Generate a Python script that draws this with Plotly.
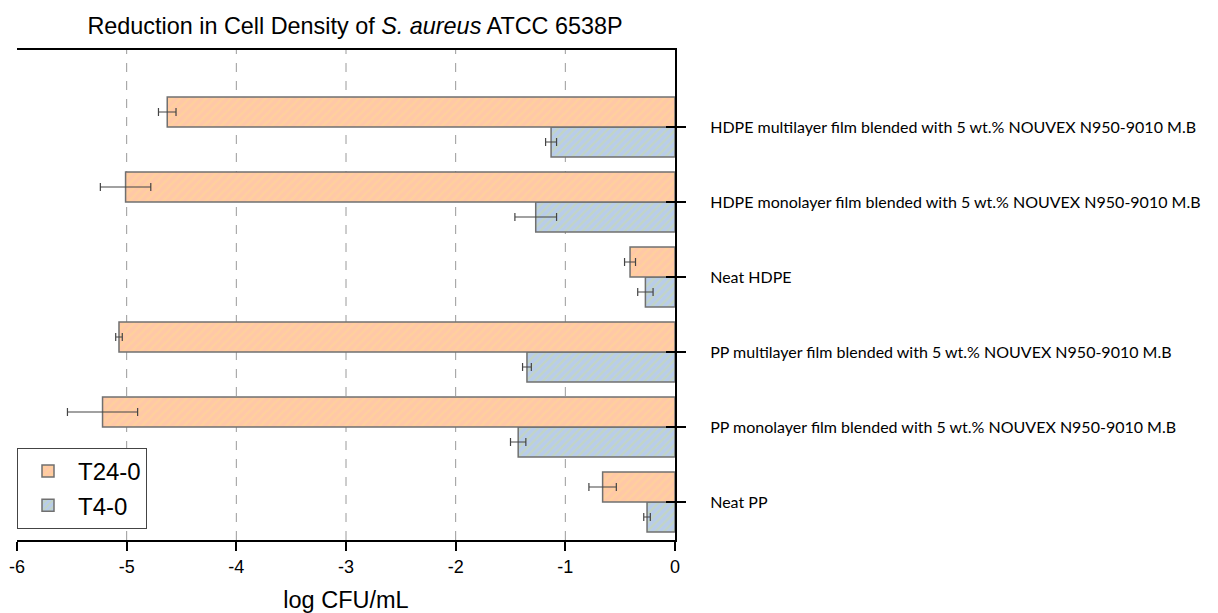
import plotly.graph_objects as go

categories = [
    "Neat PP",
    "PP monolayer film blended with 5 wt.% NOUVEX N950-9010 M.B",
    "PP multilayer film blended with 5 wt.% NOUVEX N950-9010 M.B",
    "Neat HDPE",
    "HDPE monolayer film blended with 5 wt.% NOUVEX N950-9010 M.B",
    "HDPE multilayer film blended with 5 wt.% NOUVEX N950-9010 M.B",
]
t24_values = [-0.66, -5.22, -5.07, -0.41, -5.01, -4.63]
t24_errors = [0.125, 0.32, 0.03, 0.05, 0.23, 0.08]
t4_values = [-0.255, -1.43, -1.35, -0.27, -1.27, -1.13]
t4_errors = [0.03, 0.07, 0.04, 0.07, 0.19, 0.05]
x_ticks = [-6, -5, -4, -3, -2, -1, 0]
x_tick_labels = ["-6", "-5", "-4", "-3", "-2", "-1", "0"]
grid_values = [-5, -4, -3, -2, -1]

positions = list(range(len(categories)))

fig = go.Figure()
fig.add_trace(go.Bar(
    name="T4-0", orientation="h", x=t4_values, y=positions,
    error_x=dict(type="data", array=t4_errors, color="#444444", thickness=1.2, width=4),
    marker=dict(color="#B9CDEB", line=dict(color="#707070", width=1.5),
                pattern=dict(shape="/", fgcolor="#CADBA0", bgcolor="#B9CDEB", size=6, solidity=0.4)),
))
fig.add_trace(go.Bar(
    name="T24-0", orientation="h", x=t24_values, y=positions,
    error_x=dict(type="data", array=t24_errors, color="#444444", thickness=1.2, width=4),
    marker=dict(color="#FFC8A8", line=dict(color="#707070", width=1.5),
                pattern=dict(shape="/", fgcolor="#FFD88F", bgcolor="#FFC8A8", size=6, solidity=0.4)),
))
# dummy trace to anchor the inside-tick overlay axis
fig.add_trace(go.Scatter(x=[None], y=[None], yaxis="y2", showlegend=False, hoverinfo="skip"))

for g in grid_values:
    fig.add_shape(type="line", xref="x", yref="paper", x0=g, x1=g, y0=0, y1=1,
                  line=dict(color="#9a9a9a", width=1, dash="dash"), layer="below")

yrange = [-0.507, 6.027]
fig.update_layout(
    width=1218, height=613,
    margin=dict(l=17, r=543, t=50, b=73, autoexpand=False),
    paper_bgcolor="white", plot_bgcolor="white",
    barmode="group", bargap=0.2, bargroupgap=0,
    font=dict(family="Liberation Sans, Arial, sans-serif", color="black"),
    title=dict(text="Reduction in Cell Density of <i>S. aureus</i> ATCC 6538P",
               x=355 / 1218, xanchor="center", y=1 - 26 / 613, yanchor="middle",
               xref="container", yref="container",
               font=dict(size=23.4, family="Liberation Sans, Arial, sans-serif")),
    xaxis=dict(range=[-6, 0], tickvals=x_ticks, ticktext=x_tick_labels, ticks="outside",
               ticklen=9, tickwidth=2, automargin=False,
               tickcolor="black", showline=True, linecolor="black", linewidth=2, mirror=True,
               showgrid=False, zeroline=False, tickfont=dict(size=18),
               title=dict(text="log CFU/mL", font=dict(size=23.5), standoff=16)),
    yaxis=dict(range=yrange, side="right", tickvals=positions, ticktext=categories,
               ticks="outside", ticklen=9, tickwidth=2, tickcolor="black", automargin=False,
               showline=True, linecolor="black", linewidth=2, showgrid=False, zeroline=False,
               tickfont=dict(size=16, family="Lato, Open Sans, sans-serif"),
               ticklabelstandoff=21),
    yaxis2=dict(range=yrange, overlaying="y", side="right", tickvals=positions,
                ticks="inside", ticklen=9, tickwidth=2, tickcolor="black", automargin=False,
                showticklabels=False, showline=False, showgrid=False, zeroline=False),
    legend=dict(x=0.0, y=0.188, xanchor="left", yanchor="top", traceorder="reversed",
                bordercolor="#444444", borderwidth=1, bgcolor="white",
                font=dict(size=24), itemwidth=50, tracegroupgap=0),
    showlegend=True,
)

fig.write_html("out.html")
